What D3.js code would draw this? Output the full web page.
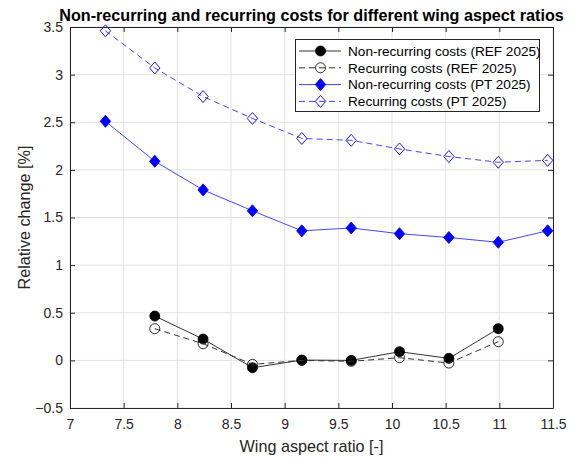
<!DOCTYPE html>
<html>
<head>
<meta charset="utf-8">
<script src="https://cdn.jsdelivr.net/npm/d3@7"></script>
<style>
  html, body { margin: 0; padding: 0; background: #fff; }
  svg { display: block; font-family: "Liberation Sans", Arial, Helvetica, sans-serif; }
</style>
</head>
<body>
<svg id="chart" width="578" height="459"></svg>
<script>
// Wing aspect ratios
const aspectPT  = [7.33, 7.79, 8.24, 8.70, 9.16, 9.62, 10.07, 10.53, 10.99, 11.45];
const aspectREF = [7.79, 8.24, 8.70, 9.16, 9.62, 10.07, 10.53, 10.99];

// Relative change [%]
const nonRecREF = [0.465, 0.224, -0.077, 0.003, 0.0, 0.091, 0.021, 0.333];
const recREF    = [0.333, 0.175, -0.042, 0.0, -0.01, 0.028, -0.028, 0.196];
const nonRecPT  = [2.51, 2.09, 1.79, 1.57, 1.36, 1.39, 1.33, 1.29, 1.24, 1.36];
const recPT     = [3.46, 3.07, 2.77, 2.54, 2.33, 2.31, 2.22, 2.14, 2.08, 2.10];

const xTicks = [7, 7.5, 8, 8.5, 9, 9.5, 10, 10.5, 11, 11.5];
const yTicks = [-0.5, 0, 0.5, 1, 1.5, 2, 2.5, 3, 3.5];

const seriesNames = [
  "Non-recurring costs (REF 2025)",
  "Recurring costs (REF 2025)",
  "Non-recurring costs (PT 2025)",
  "Recurring costs (PT 2025)"
];

const series = [
  { name: seriesNames[0], x: aspectREF, y: nonRecREF, line: "#333333", mark: "#000000", dash: null, shape: "circle", filled: true },
  { name: seriesNames[1], x: aspectREF, y: recREF,    line: "#333333", mark: "#000000", dash: "6,4", shape: "circle", filled: false },
  { name: seriesNames[2], x: aspectPT,  y: nonRecPT,  line: "#4646ff", mark: "#0000ff", dash: null, shape: "diamond", filled: true },
  { name: seriesNames[3], x: aspectPT,  y: recPT,     line: "#4646ff", mark: "#0000ff", dash: "6,4", shape: "diamond", filled: false }
];

const svg = d3.select("#chart");
const m = { left: 70, right: 553, top: 27, bottom: 408 };

const x = d3.scaleLinear().domain([7, 11.5]).range([m.left, m.right]);
const y = d3.scaleLinear().domain([-0.5, 3.5]).range([m.bottom, m.top]);

const axisColor = "#262626";
const gridColor = "#e3e3e3";

// grid
const grid = svg.append("g");
grid.selectAll(".gx").data(xTicks).join("line")
  .attr("x1", d => x(d)).attr("x2", d => x(d))
  .attr("y1", m.top).attr("y2", m.bottom)
  .attr("stroke", gridColor).attr("stroke-width", 1);
grid.selectAll(".gy").data(yTicks).join("line")
  .attr("y1", d => y(d)).attr("y2", d => y(d))
  .attr("x1", m.left).attr("x2", m.right)
  .attr("stroke", gridColor).attr("stroke-width", 1);

// axes (ticks pointing inward, mirrored on top and right)
const tickLen = 5;
function styleAxis(g) {
  g.selectAll("path").attr("stroke", axisColor);
  g.selectAll("line").attr("stroke", axisColor);
  g.selectAll("text").attr("fill", axisColor).style("font-size", "14px")
    .style("font-family", "'Liberation Sans', Arial, sans-serif");
}
svg.append("g").attr("transform", `translate(0,${m.bottom})`)
  .call(d3.axisBottom(x).tickValues(xTicks).tickFormat(d3.format("")).tickSizeInner(-tickLen).tickSizeOuter(0).tickPadding(11))
  .call(styleAxis);
svg.append("g").attr("transform", `translate(${m.left},0)`)
  .call(d3.axisLeft(y).tickValues(yTicks).tickFormat(d3.format("")).tickSizeInner(-tickLen).tickSizeOuter(0).tickPadding(7))
  .call(styleAxis);
svg.append("g").attr("transform", `translate(0,${m.top})`)
  .call(d3.axisTop(x).tickValues(xTicks).tickFormat("").tickSizeInner(-tickLen).tickSizeOuter(0))
  .call(styleAxis);
svg.append("g").attr("transform", `translate(${m.right},0)`)
  .call(d3.axisRight(y).tickValues(yTicks).tickFormat("").tickSizeInner(-tickLen).tickSizeOuter(0))
  .call(styleAxis);

// markers
function drawMarker(g, s, cx, cy) {
  if (s.shape === "circle") {
    g.append("circle").attr("cx", cx).attr("cy", cy).attr("r", 5)
      .attr("fill", s.filled ? s.mark : "none").attr("stroke", s.mark).attr("stroke-width", 0.8);
  } else {
    const w = 5.2, h = 6;
    g.append("path")
      .attr("d", `M${cx},${cy - h}L${cx + w},${cy}L${cx},${cy + h}L${cx - w},${cy}Z`)
      .attr("fill", s.filled ? s.mark : "none").attr("stroke", s.mark).attr("stroke-width", 0.9);
  }
}

const plot = svg.append("g");
series.forEach(s => {
  const pts = s.x.map((v, i) => [v, s.y[i]]);
  plot.append("path")
    .datum(pts)
    .attr("d", d3.line().x(d => x(d[0])).y(d => y(d[1])))
    .attr("fill", "none")
    .attr("stroke", s.line)
    .attr("stroke-width", 1)
    .attr("stroke-dasharray", s.dash);
  const mg = plot.append("g");
  pts.forEach(p => drawMarker(mg, s, x(p[0]), y(p[1])));
});

// title
svg.append("text")
  .attr("x", (m.left + m.right) / 2).attr("y", 21)
  .attr("text-anchor", "middle")
  .style("font-size", "16.2px").style("font-weight", "bold")
  .attr("fill", "#000")
  .text("Non-recurring and recurring costs for different wing aspect ratios");

// axis labels
svg.append("text")
  .attr("x", (m.left + m.right) / 2).attr("y", 452)
  .attr("text-anchor", "middle")
  .style("font-size", "16.2px").attr("fill", axisColor)
  .text("Wing aspect ratio [-]");
svg.append("text")
  .attr("transform", `translate(30,${(m.top + m.bottom) / 2}) rotate(-90)`)
  .attr("text-anchor", "middle")
  .style("font-size", "16.2px").attr("fill", axisColor)
  .text("Relative change [%]");

// legend
const lg = svg.append("g");
lg.append("rect")
  .attr("x", 295.5).attr("y", 39.5).attr("width", 244).attr("height", 72)
  .attr("fill", "#fff").attr("stroke", axisColor).attr("stroke-width", 1);
series.forEach((s, i) => {
  const ry = 51 + i * 16.8;
  lg.append("line")
    .attr("x1", 299).attr("x2", 341).attr("y1", ry).attr("y2", ry)
    .attr("stroke", s.line).attr("stroke-width", 1)
    .attr("stroke-dasharray", s.dash);
  drawMarker(lg, s, 320.5, ry);
  lg.append("text")
    .attr("x", 348).attr("y", ry + 4.8)
    .style("font-size", "13.6px").attr("fill", "#000")
    .text(s.name);
});
</script>
</body>
</html>
